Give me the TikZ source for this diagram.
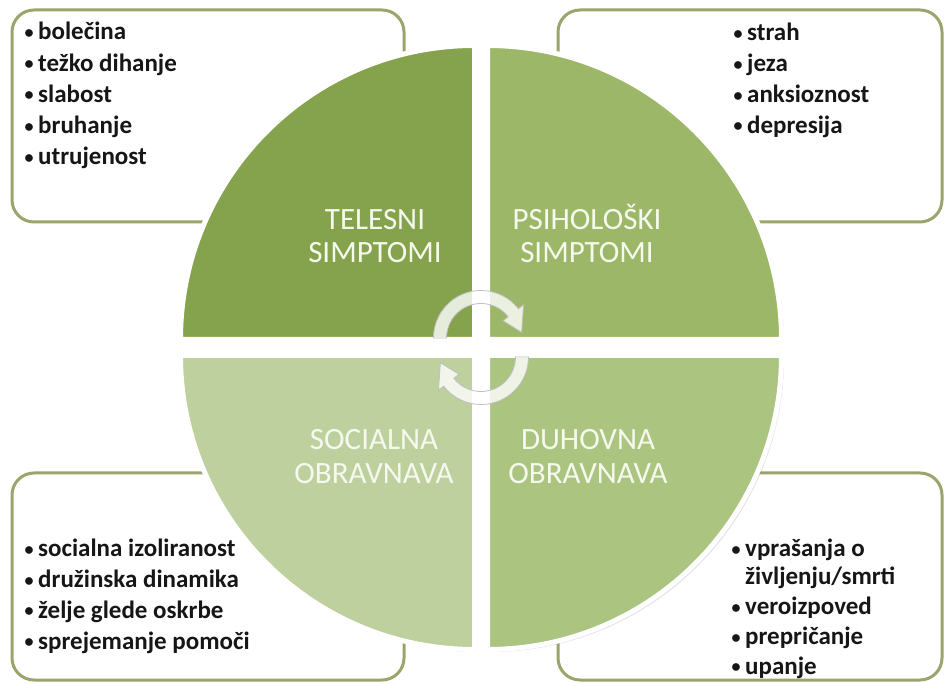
\documentclass[tikz,border=0pt]{standalone}
\usepackage{fontspec}
\setmainfont{Carlito}
\usetikzlibrary{shadows}
\definecolor{qTL}{RGB}{133,162,76}
\definecolor{qTR}{RGB}{156,183,104}
\definecolor{qBR}{RGB}{171,196,127}
\definecolor{qBL}{RGB}{189,208,158}
\definecolor{boxc}{RGB}{155,164,108}
\definecolor{labc}{RGB}{246,249,238}
\definecolor{txt}{RGB}{22,22,22}
\newcommand{\bul}{\llap{\raisebox{1.5pt}{\fontsize{18}{18}\selectfont •}\hspace{4.5pt}}}
\begin{document}
\begin{tikzpicture}[x=1pt,y=1pt,
  itembox/.style={draw=boxc, line width=3pt, fill=white, rounded corners=22pt},
  quad/.style={draw=white, line width=5pt, drop shadow={shadow xshift=2.5pt, shadow yshift=-2.5pt, opacity=0.25}},
  item/.style={anchor=base west, inner sep=0pt, text=txt, font=\bfseries\fontsize{25}{28}\selectfont},
  qlabel/.style={anchor=base, inner sep=0pt, text=labc, font=\fontsize{31}{33}\selectfont},
  cyc/.style={fill=white, fill opacity=0.8, draw=black!25, line width=0.8pt}]
\useasboundingbox (0,0) rectangle (944,682);
\fill[white] (0,0) rectangle (944,682);

% outer boxes
\path[itembox] (12,460) rectangle (404,672);
\path[itembox] (558,460) rectangle (942,672);
\path[itembox] (12,2) rectangle (404,209);
\path[itembox] (558,2) rectangle (942,209);

% quadrants
\path[quad, fill=qTL] (474.5,342.5) -- ++(-294,0) arc[start angle=180, end angle=90, radius=294] -- cycle;
\path[quad, fill=qTR] (487.5,342.5) -- ++(0,294) arc[start angle=90, end angle=0, radius=294] -- cycle;
\path[quad, fill=qBL] (474.5,326.5) -- ++(0,-294) arc[start angle=270, end angle=180, radius=294] -- cycle;
\path[quad, fill=qBR] (487.5,326.5) -- ++(294,0) arc[start angle=0, end angle=-90, radius=294] -- cycle;

% quadrant labels
\node[qlabel] (tlA) at (375,452) {TELESNI};
\node[qlabel] (tlB) at (375,419) {SIMPTOMI};
\node[qlabel] (trA) at (587,452) {PSIHOLOŠKI};
\node[qlabel] (trB) at (587,419) {SIMPTOMI};
\node[qlabel] (blA) at (374,232) {SOCIALNA};
\node[qlabel] (blB) at (374,198) {OBRAVNAVA};
\node[qlabel] (brA) at (588,232) {DUHOVNA};
\node[qlabel] (brB) at (588,198) {OBRAVNAVA};

% cycle arrows
\begin{scope}[shift={(481,344)}]
\path[cyc] (180:47.5) arc[start angle=180, end angle=38, radius=47.5] -- (38:54) -- (8:41) -- (38:28) -- (38:34.5) arc[start angle=38, end angle=180, radius=34.5] -- cycle;
\end{scope}
\begin{scope}[shift={(481,325)}, rotate=180]
\path[cyc] (180:47.5) arc[start angle=180, end angle=38, radius=47.5] -- (38:54) -- (8:41) -- (38:28) -- (38:34.5) arc[start angle=38, end angle=180, radius=34.5] -- cycle;
\end{scope}

% box texts
\foreach \t [count=\i] in {bolečina, težko dihanje, slabost, bruhanje, utrujenost}
  \node[item] (tl\i) at (38, {642-31.2*(\i-1)}) {\bul\t};
\foreach \t [count=\i] in {strah, jeza, anksioznost, depresija}
  \node[item] (tr\i) at (747, {641-30.8*(\i-1)}) {\bul\t};
\foreach \t [count=\i] in {socialna izoliranost, družinska dinamika, želje glede oskrbe, sprejemanje pomoči}
  \node[item] (bl\i) at (38, {125-30.7*(\i-1)}) {\bul\t};
\node[item] (br1) at (745,125) {\bul vprašanja o};
\node[item] (br2) at (745,97) {življenju/smrti};
\node[item] (br3) at (745,67) {\bul veroizpoved};
\node[item] (br4) at (745,37) {\bul prepričanje};
\node[item] (br5) at (745,8) {\bul upanje};
\end{tikzpicture}
\end{document}
